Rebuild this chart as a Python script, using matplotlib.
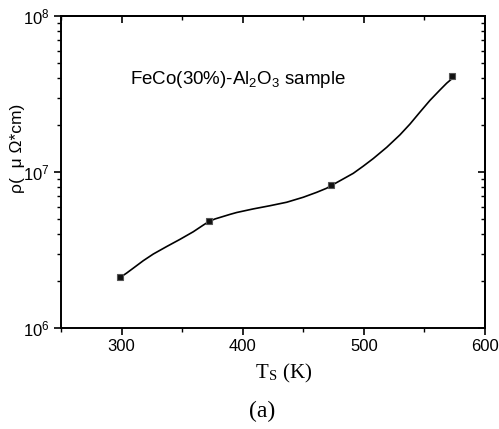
import numpy as np
import matplotlib
matplotlib.use('Agg')
import matplotlib.pyplot as plt
from matplotlib.ticker import MultipleLocator, LogLocator, NullFormatter

plt.rcParams['font.family'] = ['Liberation Sans', 'DejaVu Sans']
plt.rcParams['mathtext.fontset'] = 'custom'
plt.rcParams['mathtext.rm'] = 'Liberation Sans'
plt.rcParams['mathtext.it'] = 'Liberation Sans:italic'

# resistivity vs substrate temperature, FeCo(30%)-Al2O3
ts_curve = [299.3, 304.2, 309.7, 317.9, 326.2, 337.3, 348.2, 359.2, 367.5,
            372.4, 377.1, 389.5, 395.0, 408.7, 422.5, 436.3, 450.0, 461.1,
            469.3, 472.9, 480.3, 491.3, 499.5, 507.8, 518.9, 529.8, 538.1,
            546.3, 554.6, 562.9, 568.4, 573.0]
rho_curve = [2.12e6, 2.25e6, 2.42e6, 2.70e6, 2.98e6, 3.33e6, 3.70e6, 4.14e6,
             4.57e6, 4.83e6, 5.00e6, 5.35e6, 5.50e6, 5.80e6, 6.08e6, 6.40e6,
             6.89e6, 7.41e6, 7.87e6, 8.17e6, 8.79e6, 9.81e6, 1.09e7, 1.22e7,
             1.44e7, 1.73e7, 2.03e7, 2.42e7, 2.88e7, 3.36e7, 3.71e7, 3.98e7]

# measured samples
ts_pts = [299, 372, 473, 573]
rho_pts = [2.12e6, 4.85e6, 8.3e6, 4.1e7]

fig = plt.figure(figsize=(4.99, 4.29), dpi=100)
ax = fig.add_axes([0.1222, 0.2354, 0.8497, 0.7273])

ax.plot(ts_curve, rho_curve, color='black', linewidth=1.2)
ax.plot(ts_pts, rho_pts, linestyle='none', marker='s', markersize=5,
        markerfacecolor='#111111', markeredgecolor='#555555',
        markeredgewidth=0.8)

ax.set_yscale('log')
ax.set_xlim(250, 600)
ax.set_ylim(1e6, 1e8)
ax.xaxis.set_major_locator(MultipleLocator(100))
ax.xaxis.set_minor_locator(MultipleLocator(50))
ax.yaxis.set_major_locator(LogLocator(base=10))
ax.yaxis.set_minor_locator(LogLocator(base=10, subs=np.arange(2, 10)))
ax.yaxis.set_minor_formatter(NullFormatter())

for sp in ax.spines.values():
    sp.set_linewidth(1.4)

ax.tick_params(which='major', direction='out', length=5, width=1.2,
               labelsize=12, pad=3)
ax.tick_params(which='minor', direction='out', length=3, width=1.0)

# mirrored axes on top and right with inward ticks
top = ax.secondary_xaxis('top')
top.xaxis.set_major_locator(MultipleLocator(100))
top.xaxis.set_minor_locator(MultipleLocator(50))
top.tick_params(which='major', direction='in', length=5, width=1.2,
                labeltop=False)
top.tick_params(which='minor', direction='in', length=3, width=1.0)
top.spines['top'].set_linewidth(1.4)

right = ax.secondary_yaxis('right')
right.yaxis.set_major_locator(LogLocator(base=10))
right.yaxis.set_minor_locator(LogLocator(base=10, subs=np.arange(2, 10)))
right.tick_params(which='major', direction='in', length=5, width=1.2,
                  labelright=False)
right.tick_params(which='minor', direction='in', length=3, width=1.0,
                  labelright=False)
right.spines['right'].set_linewidth(1.4)

ax.text(0.163, 0.795, 'FeCo(30%)-Al$_2$O$_3$ sample',
        transform=ax.transAxes, fontsize=13.5, va='center', ha='left')

fig.text(18 / 499, 1 - 148 / 429, 'ρ(  μ Ω*cm)', rotation=90,
         fontsize=12.5, ha='center', va='center')

fig.text(284 / 499, 1 - 373 / 429, 'T$_\\mathregular{S}$ (K)',
         fontsize=15, ha='center', va='center', family='Liberation Serif',
         math_fontfamily='stix')
fig.text(262 / 499, 1 - 411 / 429, '(a)', fontsize=17, ha='center',
         va='center', family='Liberation Serif')

fig.savefig('out.png', dpi=100)
